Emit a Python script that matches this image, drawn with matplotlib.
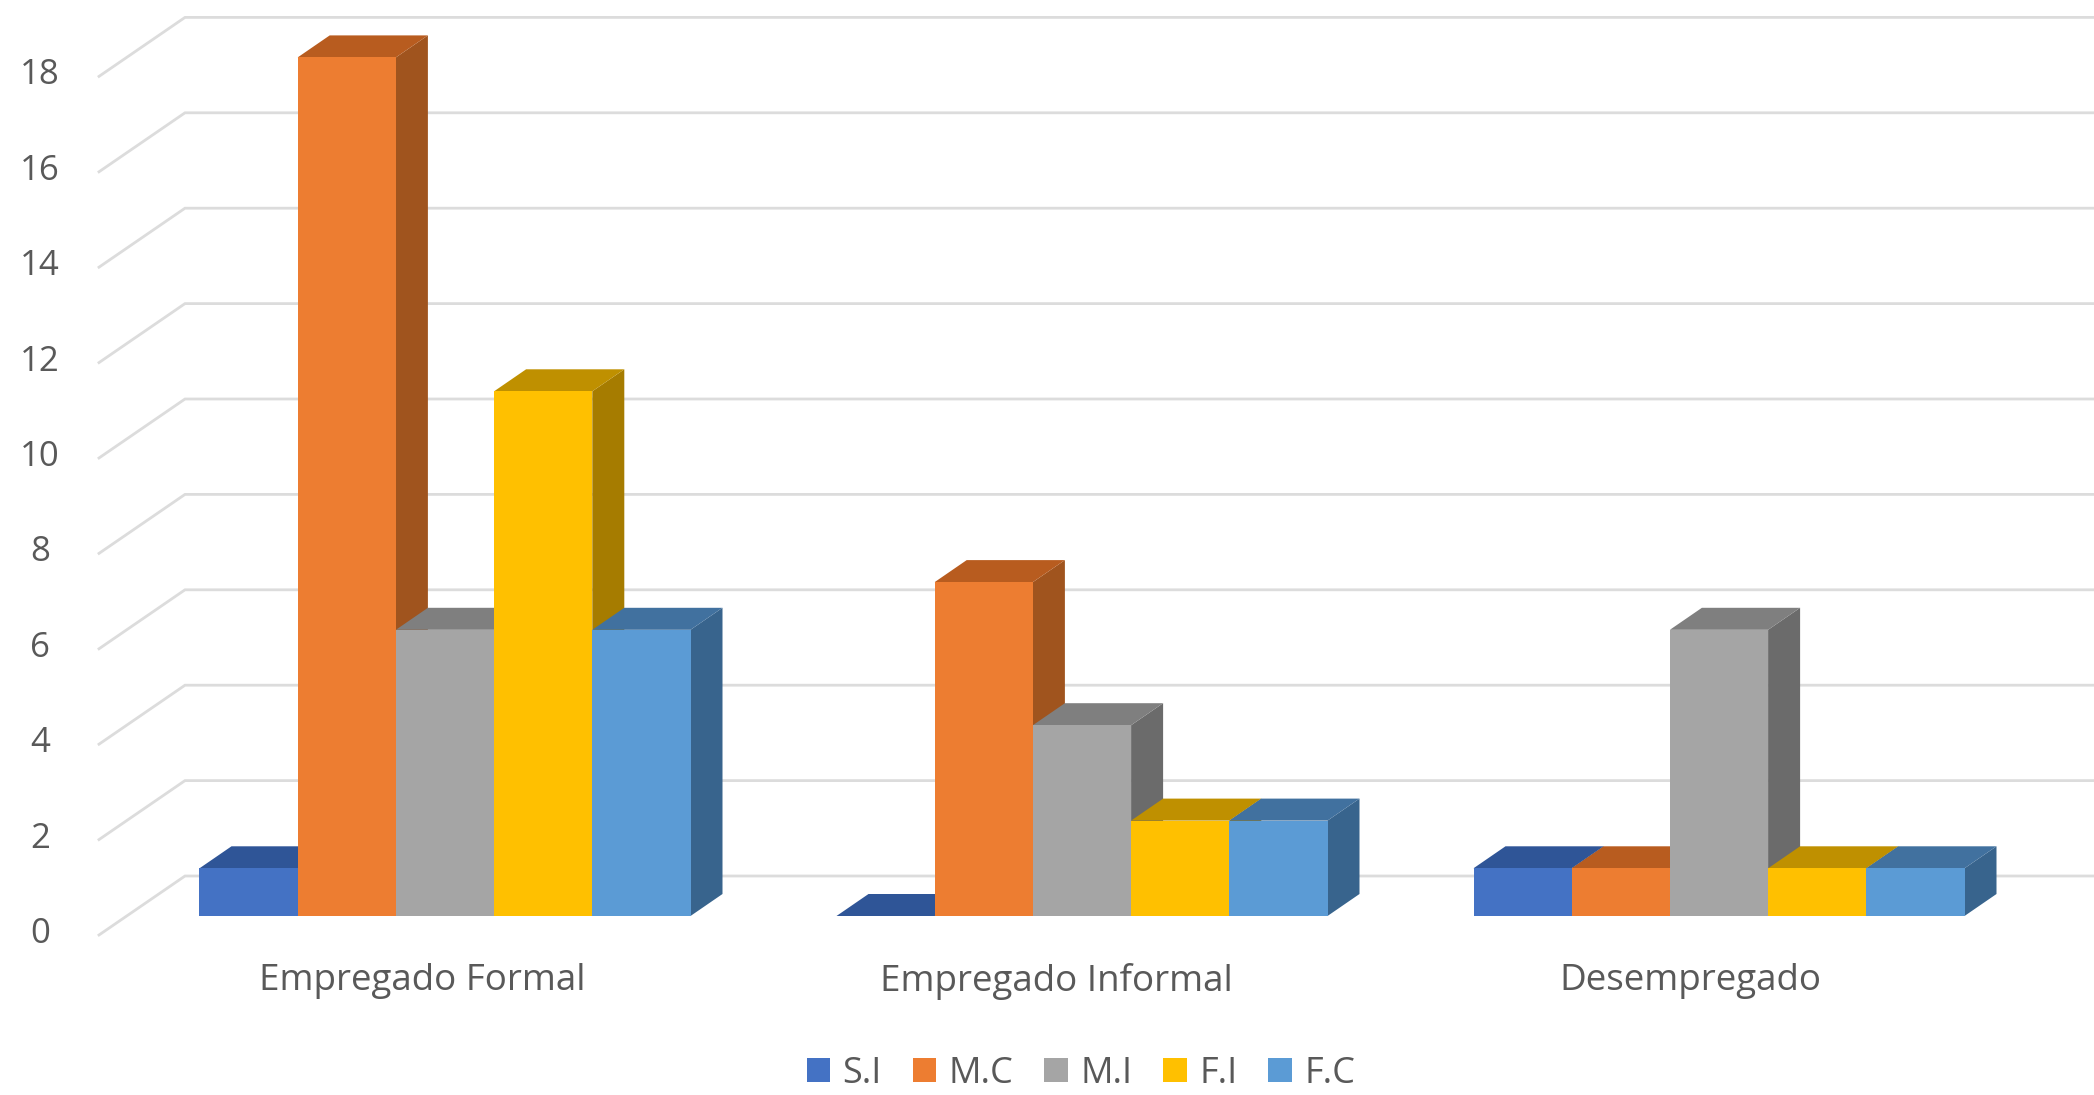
import matplotlib
matplotlib.use('Agg')
import matplotlib.pyplot as plt
from matplotlib.patches import Patch, Polygon

categories = ['Empregado Formal', 'Empregado Informal', 'Desempregado']
series_names = ['S.I', 'M.C', 'M.I', 'F.I', 'F.C']
si = [1, 0, 1]
mc = [18, 7, 1]
mi = [6, 4, 6]
fi = [11, 2, 1]
fc = [6, 2, 1]
y_ticks = [0, 2, 4, 6, 8, 10, 12, 14, 16, 18]

series = [si, mc, mi, fi, fc]
front_colors = ['#4472C4', '#ED7D31', '#A5A5A5', '#FFC000', '#5B9BD5']
top_colors = ['#2F5597', '#B85C1F', '#7F7F7F', '#BF9000', '#41719F']
side_colors = ['#2A4C88', '#A0541E', '#6B6B6B', '#A67C00', '#38648D']
text_color = '#595959'
grid_color = '#DCDCDC'

plt.rcParams['font.family'] = ['Open Sans', 'DejaVu Sans']

# x unit = one category, y unit = one count
W, H = 2094, 1095
x_scale = 637.0
y_scale = 47.7
bar_w = 98.2 / x_scale
depth_x = 32.0 / x_scale
depth_y = 22.0 / y_scale

fig = plt.figure(figsize=(W / 100, H / 100), dpi=100)
ax = fig.add_axes([0, 0, 1, 1])
ax.set_xlim(-445 / x_scale, (W - 445) / x_scale)
ax.set_ylim(-(H - 916) / y_scale, 916 / y_scale)
ax.axis('off')

# back wall gridlines with the slanted bit on the left side
wall_front_x = -346 / x_scale
wall_back_x = -260 / x_scale
wall_front_dy = -19 / y_scale
wall_back_dy = 40 / y_scale
for v in y_ticks:
    ax.plot([wall_front_x, wall_back_x, ax.get_xlim()[1]],
            [v + wall_front_dy, v + wall_back_dy, v + wall_back_dy],
            color=grid_color, lw=2, solid_joinstyle='miter', zorder=1)
    ax.text(-405 / x_scale, v - 18 / y_scale, str(v), color=text_color, fontsize=25,
            ha='center', va='center')

# bars, left to right so each front hides the side of the previous one
z = 2
for c in range(len(categories)):
    for s in range(len(series)):
        x0 = c + (s - 2.5) * bar_w
        x1 = x0 + bar_w
        v = series[s][c]
        side = [(x1, 0), (x1 + depth_x, depth_y), (x1 + depth_x, v + depth_y), (x1, v)]
        top = [(x0, v), (x0 + depth_x, v + depth_y), (x1 + depth_x, v + depth_y), (x1, v)]
        front = [(x0, 0), (x1, 0), (x1, v), (x0, v)]
        ax.add_patch(Polygon(side, closed=True, fc=side_colors[s], ec='none', zorder=z))
        ax.add_patch(Polygon(top, closed=True, fc=top_colors[s], ec='none', zorder=z + 1))
        ax.add_patch(Polygon(front, closed=True, fc=front_colors[s], ec='none', zorder=z + 2))
        z += 3
    # labels sit a bit closer together than the bar groups
    label_x = 1 + (c - 1) * 634 / x_scale - 26 / x_scale
    ax.text(label_x, -65 / y_scale, categories[c], color=text_color, fontsize=26.5,
            ha='center', va='center')

handles = [Patch(fc=front_colors[s], ec='none', label=series_names[s]) for s in range(len(series))]
fig.legend(handles=handles, ncol=5, frameon=False, loc='center',
           bbox_to_anchor=(1081 / W, 1 - 1074 / H), fontsize=26, labelcolor=text_color,
           handlelength=0.65, handleheight=0.65, handletextpad=0.35, columnspacing=0.85,
           borderpad=0, borderaxespad=0)

fig.savefig('out.png', dpi=100, facecolor='white')
